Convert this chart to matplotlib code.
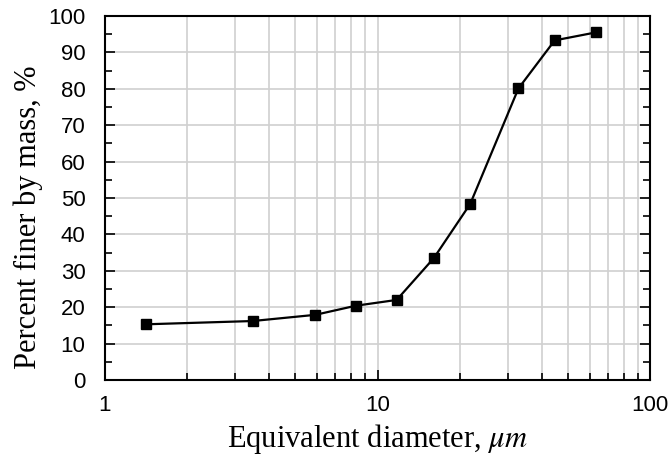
import matplotlib
matplotlib.use("Agg")
import matplotlib.pyplot as plt
from matplotlib.ticker import LogLocator, MultipleLocator, FixedLocator, NullFormatter

plt.rcParams["mathtext.fontset"] = "stix"

# particle size distribution
diameter = [1.41, 3.48, 5.91, 8.32, 11.76, 16.1, 21.9, 32.9, 44.7, 63.4]
finer = [15.3, 16.2, 17.9, 20.4, 22.0, 33.5, 48.4, 80.1, 93.3, 95.5]
xticks = [1, 10, 100]
xticklabels = ["1", "10", "100"]

fig = plt.figure(figsize=(6.69, 4.59), dpi=100)
ax = fig.add_axes([105/669, 1 - 380/459, 545/669, 364/459])

ax.plot(diameter, finer, color="black", lw=1.6, marker="s", ms=7,
        mfc="black", mec="black", zorder=3)

ax.set_xscale("log")
ax.set_xlim(1, 100)
ax.set_ylim(0, 100)
ax.xaxis.set_major_locator(FixedLocator(xticks))
ax.set_xticklabels(xticklabels)
ax.xaxis.set_minor_locator(LogLocator(base=10, subs=range(2, 10)))
ax.xaxis.set_minor_formatter(NullFormatter())
ax.yaxis.set_major_locator(MultipleLocator(10))
ax.yaxis.set_minor_locator(MultipleLocator(5))

ax.grid(True, which="major", color="#d0d0d0", lw=1.2)
ax.grid(True, which="minor", axis="x", color="#d0d0d0", lw=1.2)
ax.set_axisbelow(True)

ax.tick_params(which="both", direction="in", top=False, right=True,
               labelsize=16, width=1.2)
ax.tick_params(which="major", length=7)
ax.tick_params(which="minor", length=5)
ax.tick_params(axis="x", pad=11)
ax.tick_params(axis="y", pad=14)
for lab in ax.get_xticklabels() + ax.get_yticklabels():
    lab.set_family("Liberation Sans")
for sp in ax.spines.values():
    sp.set_linewidth(1.5)

ax.set_xlabel(r"Equivalent diameter, $\mu m$", family="Liberation Serif",
              fontsize=22, labelpad=4)
ax.set_ylabel("Percent finer by mass, %", family="Liberation Serif",
              fontsize=22, labelpad=4)
ax.yaxis.label.set_y(0.448)

fig.savefig("out.png", dpi=100)
